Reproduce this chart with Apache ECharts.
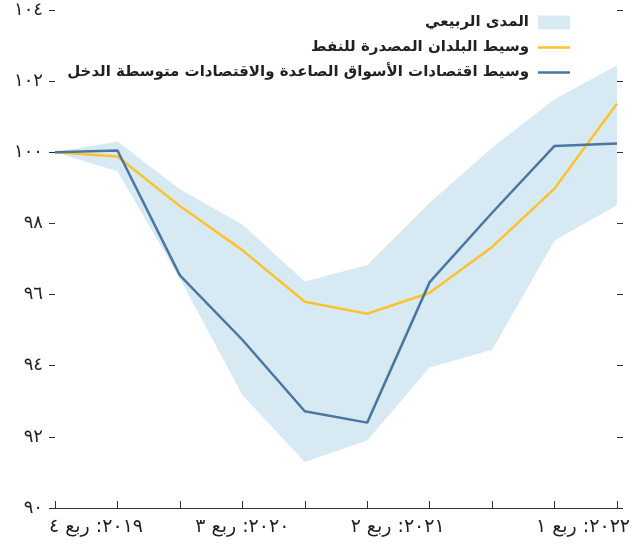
<!DOCTYPE html>
<html>
<head>
<meta charset="utf-8">
<script src="https://cdn.jsdelivr.net/npm/echarts@6/dist/echarts.min.js"></script>
<style>
html,body{margin:0;padding:0;background:#fff;}
#chart{width:640px;height:554px;}
</style>
</head>
<body>
<div id="chart"></div>
<script>
// Quarters (x categories)
var quarters = ['٢٠١٩: ربع ٤','٢٠٢٠: ربع ١','٢٠٢٠: ربع ٢','٢٠٢٠: ربع ٣','٢٠٢٠: ربع ٤','٢٠٢١: ربع ١','٢٠٢١: ربع ٢','٢٠٢١: ربع ٣','٢٠٢١: ربع ٤','٢٠٢٢: ربع ١'];
// Which category labels are shown
var shownLabels = [0, 3, 6, 9];
// Series names
var nameBand = 'المدى الربيعي';
var nameOil = 'وسيط البلدان المصدرة للنفط';
var nameEM = 'وسيط اقتصادات الأسواق الصاعدة والاقتصادات متوسطة الدخل';
// Values
var bandUpper = [100, 100.30, 98.96, 97.97, 96.37, 96.83, 98.58, 100.13, 101.49, 102.45];
var bandLower = [100, 99.47, 96.45, 93.18, 91.29, 91.90, 93.95, 94.45, 97.52, 98.51];
var oilMedian = [100, 99.88, 98.49, 97.25, 95.80, 95.46, 96.05, 97.34, 98.98, 101.37];
var emMedian = [100, 100.05, 96.54, 94.73, 92.72, 92.40, 96.35, 98.30, 100.18, 100.25];
// Y axis range
var yMin = 90, yMax = 104, yStep = 2;

var bandWidth = bandUpper.map(function (u, i) { return +(u - bandLower[i]).toFixed(2); });

var arabicDigits = ['٠','١','٢','٣','٤','٥','٦','٧','٨','٩'];
function toArabic(n) {
  return String(n).replace(/[0-9]/g, function (d) { return arabicDigits[+d]; });
}

var FONT = '"DejaVu Sans", sans-serif';
var TXT = '#231f20';
var LINE_ICON = 'path://M0,0 H32 V2.5 H0 Z';
var AXX = 19;
var AXY = 18;

var chart = echarts.init(document.getElementById('chart'), null, {renderer: 'canvas'});
chart.setOption({
  animation: false,
  backgroundColor: '#fff',
  textStyle: {fontFamily: FONT},
  grid: {left: 55, right: 23, top: 10, bottom: 46, containLabel: false},
  legend: {
    orient: 'vertical',
    right: 65,
    top: 9,
    align: 'right',
    itemWidth: 32,
    itemHeight: 14,
    itemGap: 8,
    data: [
      {name: nameBand, icon: 'rect'},
      {name: nameOil, icon: LINE_ICON},
      {name: nameEM, icon: LINE_ICON}
    ],
    textStyle: {fontFamily: FONT, fontSize: 15, fontWeight: 'bold', lineHeight: 17, color: TXT, padding: [0, 4, 0, 0]}
  },
  xAxis: {
    type: 'category',
    data: quarters,
    boundaryGap: false,
    axisLine: {lineStyle: {color: '#333', width: 1}},
    axisTick: {show: true, inside: true, length: 7, interval: 0, lineStyle: {color: '#333'}},
    splitLine: {show: false},
    axisLabel: {
      interval: 0,
      margin: 10,
      fontFamily: FONT,
      fontSize: AXX,
      color: TXT,
      formatter: function (v, i) {
        if (shownLabels.indexOf(i) < 0) return '';
        return '{l' + i + '|' + v + '}';
      },
      rich: {
        l0: {fontFamily: FONT, fontSize: AXX, color: TXT, padding: [0, 0, 0, 82]},
        l3: {fontFamily: FONT, fontSize: AXX, color: TXT},
        l6: {fontFamily: FONT, fontSize: AXX, color: TXT, padding: [0, 64, 0, 0]},
        l9: {fontFamily: FONT, fontSize: AXX, color: TXT, padding: [0, 68, 0, 0]}
      }
    }
  },
  yAxis: [
    {
      type: 'value',
      min: yMin, max: yMax, interval: yStep,
      position: 'left',
      axisLine: {show: false},
      axisTick: {show: true, length: 6, lineStyle: {color: '#333'}},
      splitLine: {show: false},
      axisLabel: {
        margin: 12,
        fontFamily: FONT,
        fontSize: AXY,
        color: TXT,
        formatter: function (v) { return toArabic(v); }
      }
    },
    {
      type: 'value',
      min: yMin, max: yMax, interval: yStep,
      position: 'right',
      axisLine: {show: false},
      axisTick: {show: true, length: 6, lineStyle: {color: '#333'}},
      splitLine: {show: false},
      axisLabel: {show: false}
    }
  ],
  series: [
    {
      name: 'lower',
      type: 'line',
      data: bandLower,
      stack: 'band',
      symbol: 'none',
      lineStyle: {opacity: 0},
      silent: true,
      z: 1
    },
    {
      name: nameBand,
      type: 'line',
      data: bandWidth,
      stack: 'band',
      symbol: 'none',
      lineStyle: {opacity: 0, width: 0},
      itemStyle: {color: '#d7eaf4'},
      areaStyle: {color: '#d7eaf4', opacity: 1},
      z: 1
    },
    {
      name: nameOil,
      type: 'line',
      data: oilMedian,
      symbol: 'none',
      itemStyle: {color: '#fcc32e'},
      lineStyle: {color: '#fcc32e', width: 2.5},
      z: 3
    },
    {
      name: nameEM,
      type: 'line',
      data: emMedian,
      symbol: 'none',
      itemStyle: {color: '#4a76a0'},
      lineStyle: {color: '#4a76a0', width: 2.5},
      z: 4
    }
  ]
});
</script>
</body>
</html>
